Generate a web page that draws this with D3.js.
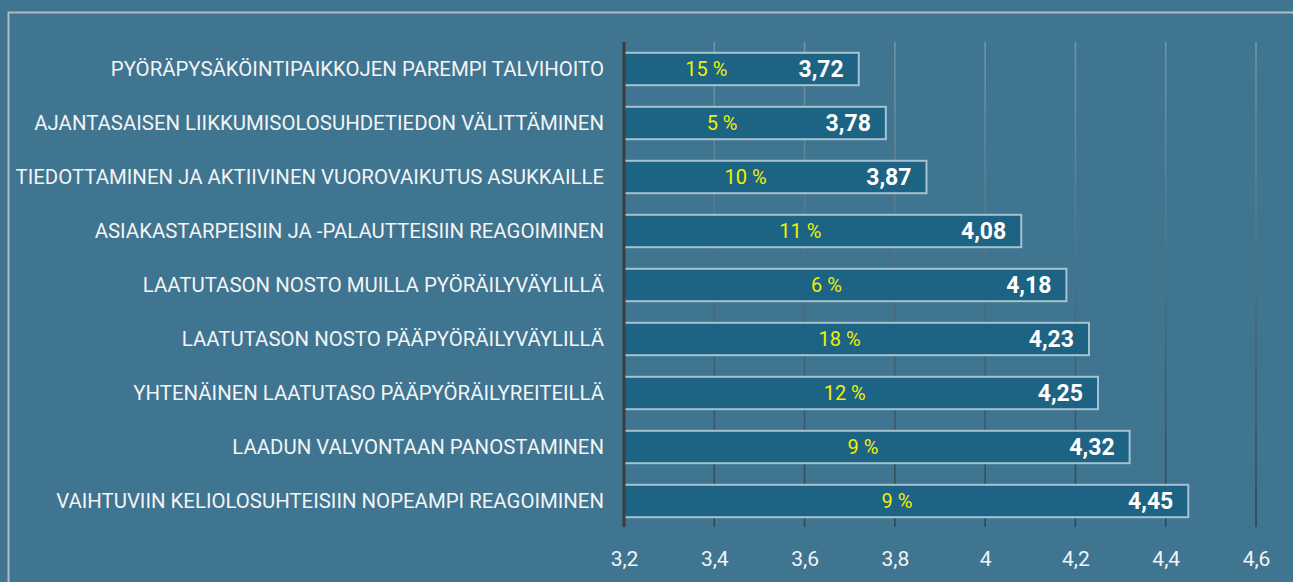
<!DOCTYPE html>
<html>
<head>
<meta charset="utf-8">
<style>
  html, body { margin: 0; padding: 0; background: #3f7590; overflow: hidden; }
</style>
</head>
<body>
<div id="chart"></div>
<script src="https://d3js.org/d3.v7.min.js"></script>
<script>
  // data
  var categories = [
    "PYÖRÄPYSÄKÖINTIPAIKKOJEN PAREMPI TALVIHOITO",
    "AJANTASAISEN LIIKKUMISOLOSUHDETIEDON VÄLITTÄMINEN",
    "TIEDOTTAMINEN JA AKTIIVINEN VUOROVAIKUTUS ASUKKAILLE",
    "ASIAKASTARPEISIIN JA -PALAUTTEISIIN REAGOIMINEN",
    "LAATUTASON NOSTO MUILLA PYÖRÄILYVÄYLILLÄ",
    "LAATUTASON NOSTO PÄÄPYÖRÄILYVÄYLILLÄ",
    "YHTENÄINEN LAATUTASO PÄÄPYÖRÄILYREITEILLÄ",
    "LAADUN VALVONTAAN PANOSTAMINEN",
    "VAIHTUVIIN KELIOLOSUHTEISIIN NOPEAMPI REAGOIMINEN"
  ];
  var scores = [3.72, 3.78, 3.87, 4.08, 4.18, 4.23, 4.25, 4.32, 4.45];
  var shares = [15, 5, 10, 11, 6, 18, 12, 9, 9];
  var tickValues = [3.2, 3.4, 3.6, 3.8, 4.0, 4.2, 4.4, 4.6];

  var width = 1293;
  var height = 582;

  var fi = d3.formatLocale({ decimal: ",", thousands: " ", grouping: [3], currency: ["", " €"] });
  var fmtTick = fi.format("~g");
  var fmtScore = fi.format(".2f");

  var svg = d3.select("#chart")
    .append("svg")
    .attr("width", width)
    .attr("height", height);

  svg.append("rect")
    .attr("width", width)
    .attr("height", height)
    .attr("fill", "#3f7590");

  // frame
  svg.append("rect")
    .attr("x", 8.5)
    .attr("y", 12.5)
    .attr("width", width + 20)
    .attr("height", height + 20)
    .attr("fill", "none")
    .attr("stroke", "#b4babd")
    .attr("stroke-width", 2);

  var xScale = d3.scaleLinear()
    .domain([3.2, 4.6])
    .range([624, 1256]);

  var yScale = d3.scaleBand()
    .domain(categories)
    .range([42, 528])
    .paddingInner(0.4)
    .paddingOuter(0.2);

  var grad = svg.append("defs").append("linearGradient")
    .attr("id", "gridGrad")
    .attr("gradientUnits", "userSpaceOnUse")
    .attr("x1", 0).attr("y1", 42)
    .attr("x2", 0).attr("y2", 527);
  grad.append("stop").attr("offset", "0%").attr("stop-color", "#7297a9");
  grad.append("stop").attr("offset", "100%").attr("stop-color", "#2b4352");

  // gridlines
  svg.selectAll(".grid")
    .data(tickValues.slice(1))
    .enter()
    .append("line")
    .attr("x1", function(d) { return xScale(d); })
    .attr("x2", function(d) { return xScale(d); })
    .attr("y1", 42)
    .attr("y2", 527)
    .attr("stroke", "url(#gridGrad)")
    .attr("stroke-width", 1.5);

  // bars
  svg.selectAll(".bar")
    .data(categories)
    .enter()
    .append("rect")
    .attr("x", xScale(3.2))
    .attr("y", function(d) { return yScale(d); })
    .attr("width", function(d, i) { return xScale(scores[i]) - xScale(3.2); })
    .attr("height", yScale.bandwidth())
    .attr("fill", "#1b6283")
    .attr("fill-opacity", 0.97)
    .attr("stroke", "#a6c2d0")
    .attr("stroke-width", 2);

  // vertical axis line
  svg.append("line")
    .attr("x1", xScale(3.2))
    .attr("x2", xScale(3.2))
    .attr("y1", 42)
    .attr("y2", 527)
    .attr("stroke", "#3a3e42")
    .attr("stroke-width", 3);

  // category labels
  svg.selectAll(".cat")
    .data(categories)
    .enter()
    .append("text")
    .attr("x", 604)
    .attr("y", function(d) { return yScale(d) + yScale.bandwidth() / 2 + 6.5; })
    .attr("text-anchor", "end")
    .attr("font-family", "Roboto, sans-serif")
    .attr("font-size", "20.4px")
    .attr("fill", "#f2f4f5")
    .text(function(d) { return d; });

  // share labels (yellow)
  svg.selectAll(".share")
    .data(categories)
    .enter()
    .append("text")
    .attr("x", function(d, i) { return xScale(3.2 + 0.578 * (scores[i] - 3.2) - 0.118); })
    .attr("y", function(d) { return yScale(d) + yScale.bandwidth() / 2 + 7; })
    .attr("text-anchor", "middle")
    .attr("font-family", "Roboto, sans-serif")
    .attr("font-size", "20px")
    .attr("fill", "#f0f000")
    .text(function(d, i) { return shares[i] + " %"; });

  // score labels
  svg.selectAll(".score")
    .data(categories)
    .enter()
    .append("text")
    .attr("x", function(d, i) { return xScale(scores[i]) - 15; })
    .attr("y", function(d) { return yScale(d) + yScale.bandwidth() / 2 + 8; })
    .attr("text-anchor", "end")
    .attr("font-family", "Roboto, sans-serif")
    .attr("font-weight", "bold")
    .attr("font-size", "23px")
    .attr("fill", "#ffffff")
    .text(function(d, i) { return fmtScore(scores[i]); });

  // x axis labels
  var xAxis = d3.axisBottom(xScale)
    .tickValues(tickValues)
    .tickSize(0)
    .tickPadding(0)
    .tickFormat(fmtTick);

  var gx = svg.append("g")
    .attr("transform", "translate(0,566)")
    .call(xAxis);
  gx.select(".domain").remove();
  gx.selectAll("text")
    .attr("dy", 0)
    .attr("font-family", "Roboto, sans-serif")
    .attr("font-size", "21px")
    .attr("fill", "#f2f4f5");
</script>
</body>
</html>
